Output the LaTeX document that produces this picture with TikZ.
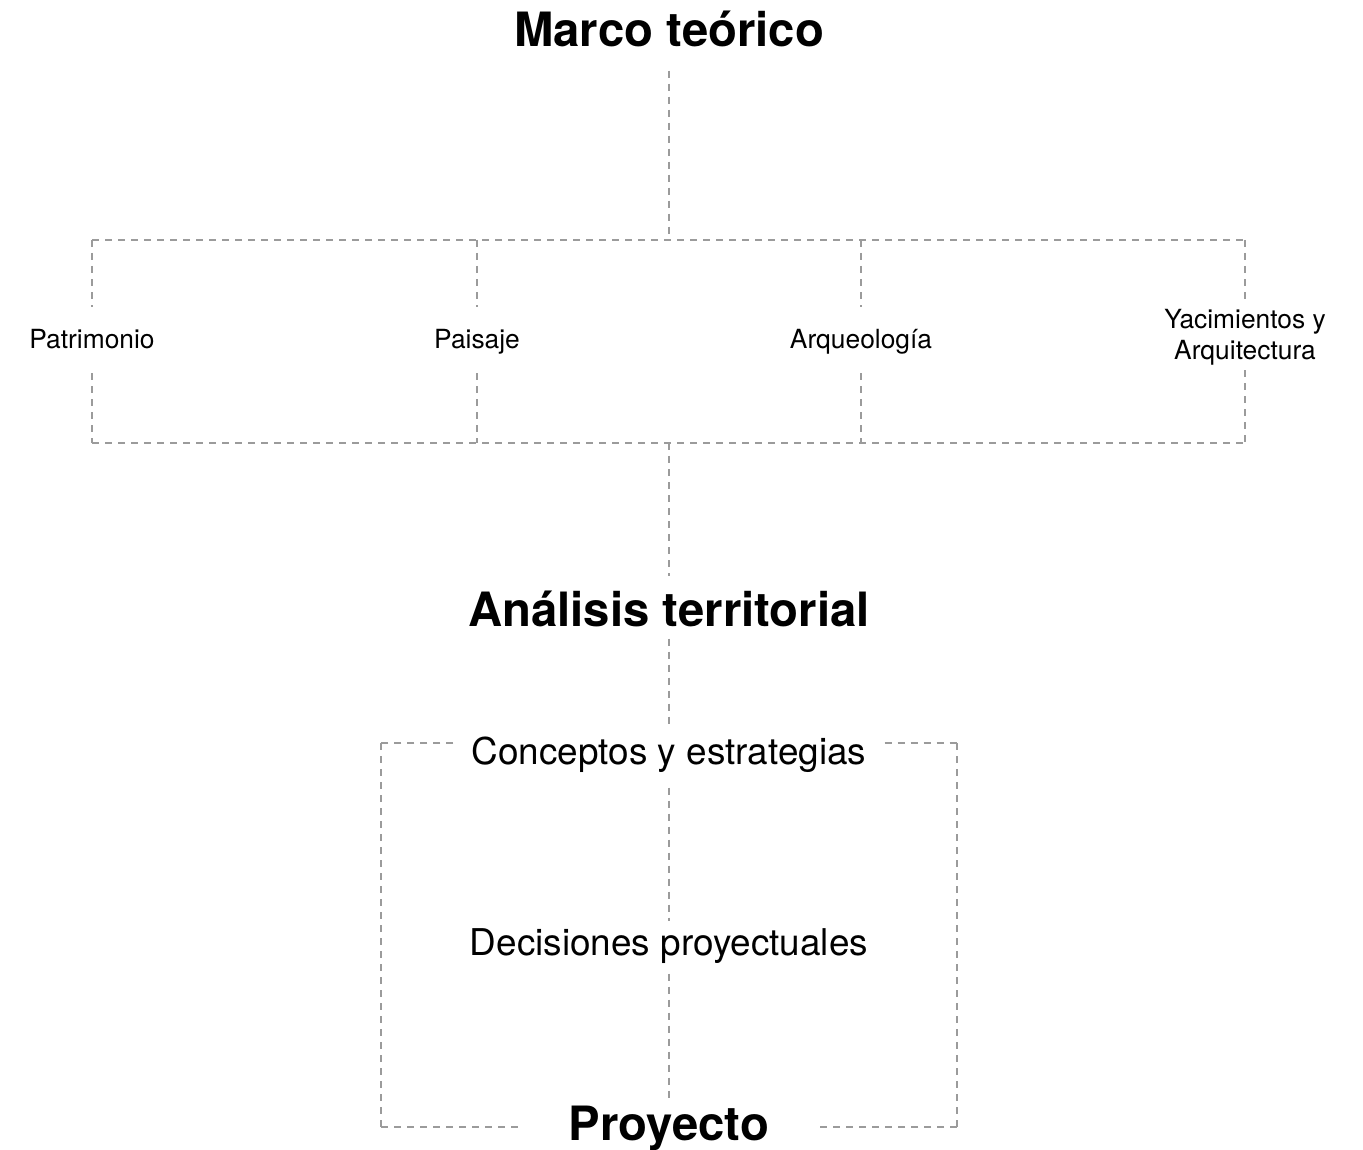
\documentclass[tikz,border=0pt]{standalone}
\usepackage{fontspec}
\setmainfont{TeX Gyre Heros}
\usetikzlibrary{positioning}
\definecolor{linegray}{RGB}{155,155,155}
\tikzset{
  link/.style={draw=linegray, line width=0.45pt, dash pattern=on 2pt off 1.7pt},
  titulo/.style={font=\fontsize{13.45}{16}\selectfont\bfseries, inner sep=0pt, anchor=base},
  tema/.style={font=\fontsize{7.5}{8.8}\selectfont, align=center, inner sep=0pt, minimum height=0.65cm},
  linea/.style={text height=0.72em, text depth=0.21em},
  paso/.style={font=\fontsize{10.5}{12.6}\selectfont, inner sep=0pt, anchor=base},
}

\begin{document}
\begin{tikzpicture}
\useasboundingbox (0,0) rectangle (13.63,-11.50);
% titulos
\node[titulo, text height=0.37cm, text depth=0.23cm] (marco) at (6.69,-0.47) {Marco teórico};
\node[titulo, text height=0.50cm, text depth=0.11cm] (analisis) at (6.69,-6.27) {Análisis territorial};
\node[titulo, text height=0.36cm, text depth=0.13cm, minimum width=2.9cm] (proyecto) at (6.69,-11.40) {Proyecto};
% temas
\node[tema, linea] (patri) at (0.92,-3.40) {Patrimonio};
\node[tema, linea] (paisaje) at (4.77,-3.40) {Paisaje};
\node[tema, linea] (arqueo) at (8.61,-3.40) {Arqueología};
\node[tema] (yac) at (12.45,-3.37) {Yacimientos y\\Arquitectura};
% pasos
\node[paso, text height=0.38cm, text depth=0.22cm, minimum width=4.3cm] (conceptos) at (6.69,-7.65) {Conceptos y estrategias};
\node[paso, text height=0.33cm, text depth=0.18cm] (decisiones) at (6.69,-9.55) {Decisiones proyectuales};
% esquinas
\coordinate (hubA) at (6.69,-2.40);
\coordinate (hubB) at (6.69,-4.43);
\coordinate (tl) at (0.92,-2.40);
\coordinate (tr) at (12.45,-2.40);
\coordinate (bl) at (0.92,-4.43);
\coordinate (br) at (12.45,-4.43);
\coordinate (ctl) at (3.81,-7.43);
\coordinate (ctr) at (9.57,-7.43);
\coordinate (cbl) at (3.81,-11.27);
\coordinate (cbr) at (9.57,-11.27);

\path[link]
  (marco) edge (hubA)
  (tl) edge (tr)
  (bl) edge (br)
  % ramas
  (tl) edge (patri)
  (patri) edge (bl)
  (tl -| paisaje) edge (paisaje)
  (paisaje) edge (bl -| paisaje)
  (tl -| arqueo) edge (arqueo)
  (arqueo) edge (bl -| arqueo)
  (tr) edge (yac)
  (yac) edge (br)
  % eje central
  (hubB) edge (analisis)
  (analisis) edge (conceptos)
  (conceptos) edge (decisiones)
  (decisiones) edge (proyecto)
  % marco exterior
  (ctl -| conceptos.west) edge (ctl)
  (ctl) edge (cbl)
  (cbl) edge (cbl -| proyecto.west)
  (ctr -| conceptos.east) edge (ctr)
  (ctr) edge (cbr)
  (cbr) edge (cbr -| proyecto.east);
\end{tikzpicture}
\end{document}
